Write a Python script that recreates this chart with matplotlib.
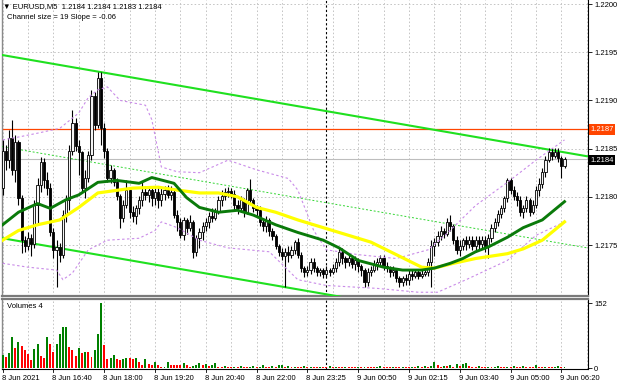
import matplotlib
matplotlib.use('Agg')
import matplotlib.pyplot as plt
import matplotlib.transforms as mtransforms
import numpy as np

plt.rcParams['font.family'] = ['Liberation Sans', 'DejaVu Sans']

# ---------------- data (EURUSD M5) ----------------
opens = [1.21809, 1.21848, 1.21838, 1.21861, 1.21828, 1.21857, 1.21799, 1.21755, 1.21749, 1.21757,
         1.21751, 1.21791, 1.21812, 1.21836, 1.21817, 1.21809, 1.21763, 1.21745, 1.21748, 1.21740,
         1.21781, 1.21797, 1.21848, 1.21877, 1.21853, 1.21846, 1.21809, 1.21819, 1.21843, 1.21905,
         1.21874, 1.21923, 1.21871, 1.21848, 1.21819, 1.21828, 1.21815, 1.21801, 1.21778, 1.21791,
         1.21807, 1.21784, 1.21780, 1.21788, 1.21797, 1.21805, 1.21802, 1.21807, 1.21799, 1.21805,
         1.21797, 1.21803, 1.21807, 1.21802, 1.21805, 1.21781, 1.21774, 1.21760, 1.21776, 1.21768,
         1.21774, 1.21743, 1.21757, 1.21763, 1.21770, 1.21774, 1.21780, 1.21778, 1.21784, 1.21797,
         1.21801, 1.21805, 1.21806, 1.21803, 1.21792, 1.21788, 1.21797, 1.21784, 1.21807, 1.21797,
         1.21788, 1.21786, 1.21774, 1.21770, 1.21776, 1.21765, 1.21759, 1.21749, 1.21743, 1.21739,
         1.21743, 1.21740, 1.21745, 1.21753, 1.21740, 1.21726, 1.21722, 1.21724, 1.21732, 1.21726,
         1.21722, 1.21724, 1.21720, 1.21724, 1.21722, 1.21726, 1.21732, 1.21743, 1.21736, 1.21732,
         1.21736, 1.21730, 1.21734, 1.21728, 1.21724, 1.21712, 1.21722, 1.21724, 1.21730, 1.21732,
         1.21736, 1.21728, 1.21726, 1.21722, 1.21724, 1.21716, 1.21712, 1.21716, 1.21714, 1.21720,
         1.21718, 1.21722, 1.21718, 1.21720, 1.21722, 1.21732, 1.21749, 1.21753, 1.21759, 1.21765,
         1.21761, 1.21774, 1.21770, 1.21755, 1.21745, 1.21749, 1.21755, 1.21751, 1.21755, 1.21749,
         1.21755, 1.21751, 1.21755, 1.21749, 1.21757, 1.21768, 1.21774, 1.21782, 1.21788, 1.21799,
         1.21817, 1.21807, 1.21801, 1.21797, 1.21784, 1.21788, 1.21797, 1.21784, 1.21792, 1.21807,
         1.21813, 1.21826, 1.21838, 1.21846, 1.21842, 1.21846, 1.21840, 1.21832]
closes = [1.21848, 1.21838, 1.21861, 1.21828, 1.21857, 1.21799, 1.21755, 1.21749, 1.21757, 1.21751,
          1.21791, 1.21812, 1.21836, 1.21817, 1.21809, 1.21763, 1.21745, 1.21748, 1.21740, 1.21781,
          1.21797, 1.21848, 1.21877, 1.21853, 1.21846, 1.21809, 1.21819, 1.21843, 1.21905, 1.21874,
          1.21923, 1.21871, 1.21848, 1.21819, 1.21828, 1.21815, 1.21801, 1.21778, 1.21791, 1.21807,
          1.21784, 1.21780, 1.21788, 1.21797, 1.21805, 1.21802, 1.21807, 1.21799, 1.21805, 1.21797,
          1.21803, 1.21807, 1.21802, 1.21805, 1.21781, 1.21774, 1.21760, 1.21776, 1.21768, 1.21774,
          1.21743, 1.21757, 1.21763, 1.21770, 1.21774, 1.21780, 1.21778, 1.21784, 1.21797, 1.21801,
          1.21805, 1.21806, 1.21803, 1.21792, 1.21788, 1.21797, 1.21784, 1.21807, 1.21797, 1.21788,
          1.21786, 1.21774, 1.21770, 1.21776, 1.21765, 1.21759, 1.21749, 1.21743, 1.21739, 1.21743,
          1.21740, 1.21745, 1.21753, 1.21740, 1.21726, 1.21722, 1.21724, 1.21732, 1.21726, 1.21722,
          1.21724, 1.21720, 1.21724, 1.21722, 1.21726, 1.21732, 1.21743, 1.21736, 1.21732, 1.21736,
          1.21730, 1.21734, 1.21728, 1.21724, 1.21712, 1.21722, 1.21724, 1.21730, 1.21732, 1.21736,
          1.21728, 1.21726, 1.21722, 1.21724, 1.21716, 1.21712, 1.21716, 1.21714, 1.21720, 1.21718,
          1.21722, 1.21718, 1.21720, 1.21722, 1.21732, 1.21749, 1.21753, 1.21759, 1.21765, 1.21761,
          1.21774, 1.21770, 1.21755, 1.21745, 1.21749, 1.21755, 1.21751, 1.21755, 1.21749, 1.21755,
          1.21751, 1.21755, 1.21749, 1.21757, 1.21768, 1.21774, 1.21782, 1.21788, 1.21799, 1.21817,
          1.21807, 1.21801, 1.21797, 1.21784, 1.21788, 1.21797, 1.21784, 1.21792, 1.21807, 1.21813,
          1.21826, 1.21838, 1.21846, 1.21842, 1.21846, 1.21840, 1.21832, 1.21839]
highs = [1.21859, 1.21854, 1.21869, 1.21880, 1.21864, 1.21859, 1.21802, 1.21759, 1.21763, 1.21761,
         1.21797, 1.21819, 1.21841, 1.21840, 1.21826, 1.21814, 1.21768, 1.21755, 1.21752, 1.21786,
         1.21802, 1.21854, 1.21890, 1.21882, 1.21859, 1.21848, 1.21828, 1.21848, 1.21911, 1.21909,
         1.21929, 1.21929, 1.21877, 1.21851, 1.21833, 1.21830, 1.21819, 1.21803, 1.21797, 1.21817,
         1.21809, 1.21790, 1.21792, 1.21801, 1.21815, 1.21811, 1.21811, 1.21809, 1.21809, 1.21809,
         1.21809, 1.21811, 1.21812, 1.21811, 1.21807, 1.21786, 1.21778, 1.21779, 1.21778, 1.21781,
         1.21776, 1.21760, 1.21768, 1.21774, 1.21778, 1.21784, 1.21788, 1.21788, 1.21801, 1.21807,
         1.21809, 1.21810, 1.21809, 1.21807, 1.21797, 1.21801, 1.21799, 1.21809, 1.21818, 1.21799,
         1.21792, 1.21790, 1.21778, 1.21780, 1.21778, 1.21768, 1.21761, 1.21751, 1.21747, 1.21747,
         1.21749, 1.21749, 1.21755, 1.21757, 1.21743, 1.21728, 1.21728, 1.21737, 1.21736, 1.21728,
         1.21726, 1.21726, 1.21728, 1.21726, 1.21730, 1.21736, 1.21747, 1.21747, 1.21739, 1.21741,
         1.21739, 1.21739, 1.21736, 1.21730, 1.21726, 1.21726, 1.21728, 1.21734, 1.21736, 1.21740,
         1.21740, 1.21732, 1.21728, 1.21728, 1.21726, 1.21718, 1.21718, 1.21720, 1.21724, 1.21724,
         1.21724, 1.21724, 1.21724, 1.21726, 1.21736, 1.21755, 1.21757, 1.21765, 1.21770, 1.21768,
         1.21778, 1.21781, 1.21772, 1.21759, 1.21755, 1.21757, 1.21759, 1.21759, 1.21759, 1.21759,
         1.21759, 1.21759, 1.21759, 1.21761, 1.21772, 1.21778, 1.21786, 1.21792, 1.21801, 1.21819,
         1.21819, 1.21811, 1.21805, 1.21801, 1.21792, 1.21801, 1.21799, 1.21797, 1.21811, 1.21819,
         1.21830, 1.21842, 1.21851, 1.21851, 1.21851, 1.21851, 1.21842, 1.21841]
lows = [1.21802, 1.21828, 1.21830, 1.21823, 1.21815, 1.21791, 1.21742, 1.21743, 1.21745, 1.21739,
        1.21747, 1.21771, 1.21805, 1.21809, 1.21802, 1.21759, 1.21736, 1.21706, 1.21732, 1.21736,
        1.21774, 1.21786, 1.21843, 1.21848, 1.21823, 1.21805, 1.21799, 1.21815, 1.21838, 1.21869,
        1.21871, 1.21854, 1.21840, 1.21815, 1.21814, 1.21811, 1.21797, 1.21768, 1.21774, 1.21788,
        1.21778, 1.21774, 1.21772, 1.21782, 1.21790, 1.21797, 1.21795, 1.21790, 1.21792, 1.21788,
        1.21790, 1.21797, 1.21799, 1.21797, 1.21778, 1.21765, 1.21757, 1.21755, 1.21761, 1.21765,
        1.21736, 1.21739, 1.21747, 1.21755, 1.21765, 1.21768, 1.21774, 1.21776, 1.21782, 1.21790,
        1.21797, 1.21800, 1.21799, 1.21786, 1.21782, 1.21784, 1.21779, 1.21782, 1.21793, 1.21784,
        1.21780, 1.21770, 1.21765, 1.21763, 1.21759, 1.21755, 1.21746, 1.21739, 1.21734, 1.21706,
        1.21732, 1.21736, 1.21741, 1.21736, 1.21722, 1.21717, 1.21718, 1.21720, 1.21722, 1.21718,
        1.21718, 1.21716, 1.21717, 1.21718, 1.21720, 1.21722, 1.21728, 1.21730, 1.21726, 1.21728,
        1.21726, 1.21724, 1.21722, 1.21718, 1.21706, 1.21707, 1.21718, 1.21722, 1.21724, 1.21728,
        1.21724, 1.21722, 1.21717, 1.21718, 1.21712, 1.21706, 1.21707, 1.21708, 1.21709, 1.21714,
        1.21716, 1.21715, 1.21716, 1.21718, 1.21718, 1.21706, 1.21739, 1.21749, 1.21755, 1.21757,
        1.21759, 1.21765, 1.21751, 1.21741, 1.21739, 1.21745, 1.21745, 1.21747, 1.21745, 1.21743,
        1.21745, 1.21747, 1.21743, 1.21737, 1.21753, 1.21763, 1.21770, 1.21778, 1.21784, 1.21795,
        1.21803, 1.21797, 1.21790, 1.21780, 1.21778, 1.21784, 1.21780, 1.21782, 1.21788, 1.21801,
        1.21809, 1.21821, 1.21836, 1.21838, 1.21840, 1.21836, 1.21819, 1.21830]
volumes = [31, 25, 35, 72, 47, 61, 51, 43, 33, 18, 44, 55, 27, 23, 72, 56, 37, 56, 80, 95,
           97, 48, 43, 27, 47, 35, 37, 37, 25, 41, 80, 152,
           53, 20, 23, 30, 21, 19, 20, 23, 23, 20, 23, 14, 8, 20, 9, 6, 14, 8, 2, 3, 14, 8, 8, 8, 8, 12, 8, 3, 4, 8,
           12, 6, 9, 4, 6, 12, 3, 2, 4, 3, 2, 3, 2, 5, 3, 2, 3, 4, 2, 3, 6, 3, 2, 4, 3, 6, 8, 3, 5, 2,
           3, 2, 2, 4, 2, 3, 2, 2, 3, 2, 2, 4, 2, 3, 2, 2, 3, 2, 2, 2, 3, 2, 3, 2, 2, 2, 3, 4, 2, 2,
           2, 3, 2, 2, 3, 2, 2, 3, 2, 4, 3, 4, 2, 5, 14, 6, 3, 5, 4, 6, 3, 9, 4, 10, 12, 5, 3, 2, 4, 3,
           2, 3, 2, 3, 4, 2, 2, 3, 2, 4, 3, 2, 5, 3, 2, 2, 8, 3, 2, 3, 2, 2, 3, 4, 2, 3]

# moving averages (bar index, value)
ma_fast_bars = [0, 5, 11, 15, 20, 24, 30, 36, 43, 47, 54, 58, 62, 68, 74, 79, 86, 93, 101, 106,
                112, 120, 126, 132, 136, 141, 145, 149, 153, 159, 164, 170, 177]
ma_fast = [1.21771, 1.21784, 1.21793, 1.21788, 1.21797, 1.21802, 1.21815, 1.21817, 1.21814, 1.21820,
           1.21814, 1.21799, 1.21789, 1.21784, 1.21786, 1.21781, 1.21771, 1.21763, 1.21755, 1.21747,
           1.21734, 1.21727, 1.21724, 1.21724, 1.21726, 1.21731, 1.21736, 1.21743, 1.21748, 1.21758,
           1.21768, 1.21776, 1.21795]
ma_slow_bars = [0, 5, 11, 18, 24, 30, 41, 49, 55, 62, 68, 74, 80, 86, 93, 101, 109, 116, 124, 132,
                136, 142, 149, 159, 164, 170, 177]
ma_slow = [1.21755, 1.21765, 1.21771, 1.21776, 1.21789, 1.21804, 1.21809, 1.21810, 1.21807, 1.21804,
           1.21804, 1.21800, 1.21789, 1.21784, 1.21776, 1.21768, 1.21760, 1.21753, 1.21740, 1.21727,
           1.21726, 1.21731, 1.21736, 1.21741, 1.21746, 1.21755, 1.21774]
# price bands (bar index, upper, lower)
band_up_bars = [0, 5, 11, 18, 24, 27, 30, 33, 37, 45, 47, 50, 55, 62, 71, 80, 90, 93, 98, 102,
                112, 124, 134, 140, 149, 159, 168, 177]
band_up = [1.21859, 1.21862, 1.21866, 1.21871, 1.21887, 1.21903, 1.21911, 1.21914, 1.21900, 1.21895,
           1.21880, 1.21831, 1.21826, 1.21825, 1.21838, 1.21828, 1.21819, 1.21807, 1.21765, 1.21745,
           1.21740, 1.21736, 1.21745, 1.21762, 1.21791, 1.21815, 1.21838, 1.21859]
band_lo_bars = [0, 8, 17, 19, 22, 27, 33, 43, 48, 50, 55, 62, 71, 84, 93, 102, 118, 131, 137, 146,
                159, 168, 177]
band_lo = [1.21731, 1.21727, 1.21724, 1.21714, 1.21721, 1.21745, 1.21755, 1.21757, 1.21765, 1.21774,
           1.21768, 1.21755, 1.21747, 1.21743, 1.21714, 1.21708, 1.21705, 1.21701, 1.21701, 1.21714,
           1.21734, 1.21760, 1.21774]

# channel (equidistant channel)
channel_start = 1.21947      # upper line value at bar 0
channel_slope = -0.0000057   # price per bar (Slope = -0.06 pips)
channel_size = 0.0019        # 19 pips
resistance = 1.2187
bid = 1.21839
day_separator_bar = 102

price_ticks = [1.2175, 1.2180, 1.2185, 1.2190, 1.2195, 1.2200]
label_bars = [0, 16, 32, 48, 64, 80, 96, 112, 128, 144, 160, 176]
time_labels = ['8 Jun 2021', '8 Jun 16:40', '8 Jun 18:00', '8 Jun 19:20', '8 Jun 20:40',
               '8 Jun 22:00', '8 Jun 23:25', '9 Jun 00:50', '9 Jun 02:15', '9 Jun 03:40',
               '9 Jun 05:00', '9 Jun 06:20']
title = '\u25bc EURUSD,M5  1.2184 1.2184 1.2183 1.2184'
subtitle = 'Channel size = 19 Slope = -0.06'

# ---------------- layout ----------------
W, H = 620, 388
fig = plt.figure(figsize=(W / 100, H / 100), dpi=100)
fig.patch.set_facecolor('white')


def rect(x0, y0, x1, y1):
    return [x0 / W, 1 - y1 / H, (x1 - x0) / W, (y1 - y0) / H]


ax = fig.add_axes(rect(2, 0, 588, 296))
axv = fig.add_axes(rect(2, 299, 588, 369))

n = len(closes)
x = np.arange(n)
XMIN, XMAX = -0.19, 184.4
FS = 5.5
grid_kw = dict(color='#C4C4C4', lw=0.7, dashes=(1.6, 2.2), zorder=0)

# ---------- main panel ----------
ax.set_xlim(XMIN, XMAX)
ax.set_ylim(1.216971, 1.2200415)
for gb in range(0, 190, 8):
    ax.axvline(gb, **grid_kw)
    axv.axvline(gb, **grid_kw)
for t in price_ticks:
    ax.axhline(t, **grid_kw)

ax.axvline(day_separator_bar, color='black', lw=0.8, dashes=(2, 2), zorder=1)
axv.axvline(day_separator_bar, color='black', lw=0.8, dashes=(2, 2), zorder=1)

ax.axhline(resistance, color='#FF4500', lw=0.9, zorder=2)
ax.axhline(bid, color='#BDBDBD', lw=0.8, zorder=2)

# channel
cx = np.array([XMIN, XMAX])
upper = channel_start + channel_slope * cx
ax.plot(cx, upper, color='#1FE01F', lw=1.5, zorder=3)
ax.plot(cx, upper - channel_size, color='#1FE01F', lw=1.5, zorder=3)
ax.plot(cx, upper - channel_size / 2, color='#33D633', lw=0.7, dashes=(2, 2), zorder=3)

# candles
o = np.array(opens); c = np.array(closes); h = np.array(highs); l = np.array(lows)
ax.vlines(x, l, h, color='black', lw=0.8, zorder=4)
bull = c >= o
ax.bar(x[bull], np.abs(c - o)[bull], bottom=np.minimum(o, c)[bull], width=0.68,
       color='#F4F4F4', edgecolor='black', linewidth=0.6, zorder=5)
ax.bar(x[~bull], np.abs(c - o)[~bull], bottom=np.minimum(o, c)[~bull], width=0.68,
       color='black', edgecolor='black', linewidth=0.6, zorder=5)

# bands and moving averages
band_kw = dict(color='#C98BE8', lw=0.8, dashes=(2.2, 2.2), zorder=6)
ax.plot(band_up_bars, band_up, **band_kw)
ax.plot(band_lo_bars, band_lo, **band_kw)
ax.plot(ma_slow_bars, ma_slow, color='#FFFF00', lw=2.3, zorder=7, solid_joinstyle='round')
ax.plot(ma_fast_bars, ma_fast, color='#0A7A0A', lw=2.1, zorder=8, solid_joinstyle='round')

# right axis
ax.yaxis.tick_right()
ax.set_yticks(price_ticks)
ax.set_yticklabels(['%.4f' % t for t in price_ticks])
ax.tick_params(axis='y', labelsize=FS, length=3, width=0.6, pad=1.5, colors='black')
ax.set_xticks([])
ax.spines['top'].set_visible(False)
ax.spines['left'].set_color('#8A8A8A'); ax.spines['left'].set_linewidth(1.0)
ax.spines['right'].set_color('black'); ax.spines['right'].set_linewidth(0.8)
ax.spines['bottom'].set_color('#7A7A7A'); ax.spines['bottom'].set_linewidth(1.6)

trans = mtransforms.blended_transform_factory(ax.transAxes, ax.transData)
ax.text(1.004, resistance, '1.2187', transform=trans, ha='left', va='center', fontsize=FS,
        color='white', zorder=10, clip_on=False,
        bbox=dict(boxstyle='square,pad=0.22', fc='#FF4500', ec='none'))
ax.text(1.004, bid - 0.00001, '1.2184', transform=trans, ha='left', va='center', fontsize=FS,
        color='white', zorder=10, clip_on=False,
        bbox=dict(boxstyle='square,pad=0.22', fc='black', ec='none'))

fig.text(3 / W, 1 - 6.5 / H, title, fontsize=FS, va='center', ha='left', color='black')
fig.text(7 / W, 1 - 17.5 / H, subtitle, fontsize=FS, va='center', ha='left', color='black')

# ---------- volume panel ----------
axv.set_xlim(XMIN, XMAX)
axv.set_ylim(-2.3, 161.4)
vol = np.array(volumes)
up = np.concatenate([[True], vol[1:] > vol[:-1]])
axv.bar(x[up], vol[up], width=0.62, color='#008000', edgecolor='none', zorder=3)
axv.bar(x[~up], vol[~up], width=0.62, color='#FF0000', edgecolor='none', zorder=3)
axv.yaxis.tick_right()
axv.set_yticks([0, 152])
axv.set_yticklabels(['0', '152'])
axv.tick_params(axis='y', labelsize=FS, length=3, width=0.6, pad=1.5)
axv.set_xticks([])
axv.spines['top'].set_color('#7A7A7A'); axv.spines['top'].set_linewidth(1.6)
axv.spines['left'].set_color('#8A8A8A'); axv.spines['left'].set_linewidth(1.0)
axv.spines['right'].set_color('black'); axv.spines['right'].set_linewidth(0.8)
axv.spines['bottom'].set_color('black'); axv.spines['bottom'].set_linewidth(0.8)
axv.text(5 / 586, 1 - 7 / 70, 'Volumes 4', transform=axv.transAxes, fontsize=FS,
         ha='left', va='center')

ttrans = mtransforms.blended_transform_factory(axv.transData, axv.transAxes)
for b, lab in zip(label_bars, time_labels):
    axv.text(b - 0.3, -9.5 / 70, lab, transform=ttrans, fontsize=FS, ha='left', va='center',
             clip_on=False)
    axv.plot([b, b], [0, -2.5 / 70], transform=ttrans, color='black', lw=0.6, clip_on=False)

fig.savefig('out.png', dpi=100, facecolor='white')
